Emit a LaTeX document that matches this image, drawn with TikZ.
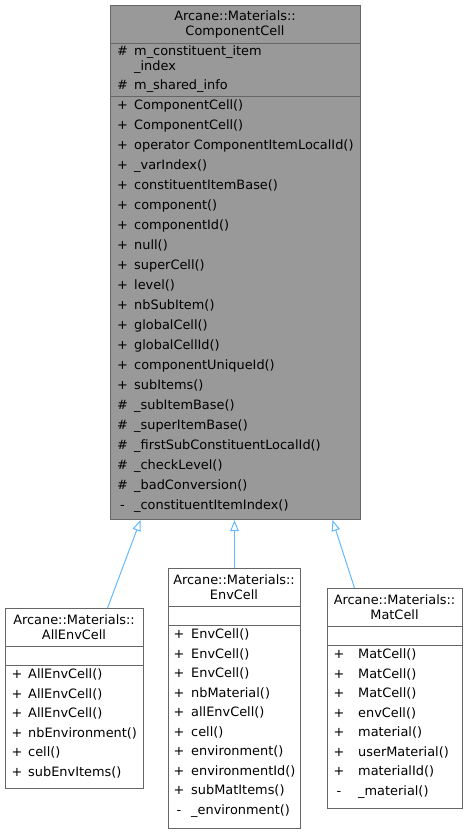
\documentclass[tikz,border=0pt]{standalone}
\usepackage{fontspec}
\setmainfont{DejaVu Sans}
\usetikzlibrary{arrows.meta, positioning}
\newcommand{\doxyfont}{\fontsize{12.9}{15}\selectfont}
\definecolor{boxedge}{HTML}{666666}
\definecolor{basefill}{HTML}{999999}
\definecolor{inheritblue}{HTML}{63B8FF}
\tikzset{
    classbox/.style = {
      rectangle, draw=boxedge, line width=1pt, inner sep=0, anchor=north west,
    },
    base class/.style = {
      classbox, fill=basefill,
    },
    derived class/.style = {
      classbox, fill=white,
    },
    separator/.style = {
      draw=boxedge, line width=1pt,
    },
    class title/.style = {
      inner sep=0, align=center, font=\doxyfont,
    },
    member/.style = {
      anchor=west, inner sep=0, text height=9.5pt, text depth=2.5pt, font=\doxyfont,
    },
    member sign/.style = {
      member, anchor=center,
    },
    inheritance/.style = {
      draw=inheritblue, line width=1pt,
      arrows={-Triangle[fill=white, length=11pt, width=8.5pt]},
    },
}

\begin{document}
\begin{tikzpicture}[x=1pt, y=-1pt]
    \useasboundingbox (0,0) rectangle (469,833);

    %% Base class
    \node [base class, minimum width=250pt, minimum height=514pt] (compcell) at (110,5) {};
    \node [class title] (compcell-title) at (235,24.5) {Arcane::Materials::\\ComponentCell};
    \draw [separator] (110,43) -- (360,43);
    \draw [separator] (110,96) -- (360,96);
    \node [member sign] (compcell-as1) at (122.5,52) {\#};
    \node [member] (compcell-a1) at (134,52) {m\_constituent\_item};
    \node [member] (compcell-a1b) at (134,67) {\_index};
    \node [member sign] (compcell-as2) at (122.5,86) {\#};
    \node [member] (compcell-a2) at (134,86) {m\_shared\_info};
    \foreach \sign/\member [count=\i from 0] in {
      +/ComponentCell(), +/ComponentCell(), +/operator ComponentItemLocalId(),
      +/\_varIndex(), +/constituentItemBase(), +/component(), +/componentId(),
      +/null(), +/superCell(), +/level(), +/nbSubItem(), +/globalCell(),
      +/globalCellId(), +/componentUniqueId(), +/subItems(),
      \#/\_subItemBase(), \#/\_superItemBase(), \#/\_firstSubConstituentLocalId(),
      \#/\_checkLevel(), \#/\_badConversion(), -/\_constituentItemIndex()}{%
      \node [member sign] (compcell-s\i) at (122.5,{106+20*\i}) {\sign};
      \node [member] (compcell-m\i) at (134,{106+20*\i}) {\member};
    }

    %% Derived classes
    \node [derived class, minimum width=138pt, minimum height=180pt] (allenv) at (5,608) {};
    \node [class title] (allenv-title) at (74,627.5) {Arcane::Materials::\\AllEnvCell};
    \draw [separator] (5,646) -- (143,646);
    \draw [separator] (5,665) -- (143,665);
    \foreach \member [count=\i from 0] in {
      AllEnvCell(), AllEnvCell(), AllEnvCell(), nbEnvironment(), cell(), subEnvItems()}{%
      \node [member sign] (allenv-s\i) at (17,{675+19.5*\i}) {+};
      \node [member] (allenv-m\i) at (28,{675+19.5*\i}) {\member};
    }

    \node [derived class, minimum width=132pt, minimum height=260pt] (envcell) at (168,568) {};
    \node [class title] (envcell-title) at (234,587.5) {Arcane::Materials::\\EnvCell};
    \draw [separator] (168,606) -- (300,606);
    \draw [separator] (168,625) -- (300,625);
    \foreach \sign/\member [count=\i from 0] in {
      +/EnvCell(), +/EnvCell(), +/EnvCell(), +/nbMaterial(), +/allEnvCell(),
      +/cell(), +/environment(), +/environmentId(), +/subMatItems(),
      -/\_environment()}{%
      \node [member sign] (envcell-s\i) at (179,{635+19.5*\i}) {\sign};
      \node [member] (envcell-m\i) at (191,{635+19.5*\i}) {\member};
    }

    \node [derived class, minimum width=135pt, minimum height=220pt] (matcell) at (327,588) {};
    \node [class title] (matcell-title) at (394.5,607.5) {Arcane::Materials::\\MatCell};
    \draw [separator] (327,626) -- (462,626);
    \draw [separator] (327,645) -- (462,645);
    \foreach \sign/\member [count=\i from 0] in {
      +/MatCell(), +/MatCell(), +/MatCell(), +/envCell(), +/material(),
      +/userMaterial(), +/materialId(), -/\_material()}{%
      \node [member sign] (matcell-s\i) at (339,{655+19.5*\i}) {\sign};
      \node [member] (matcell-m\i) at (358,{655+19.5*\i}) {\member};
    }

    %% Inheritance
    \draw [inheritance] ([xshift=33pt] allenv.north) -- ([xshift=-95pt] compcell.south);
    \draw [inheritance] (envcell.north) -- (envcell.north |- compcell.south);
    \draw [inheritance] ([xshift=-40.5pt] matcell.north) -- ([xshift=97pt] compcell.south);
\end{tikzpicture}
\end{document}
